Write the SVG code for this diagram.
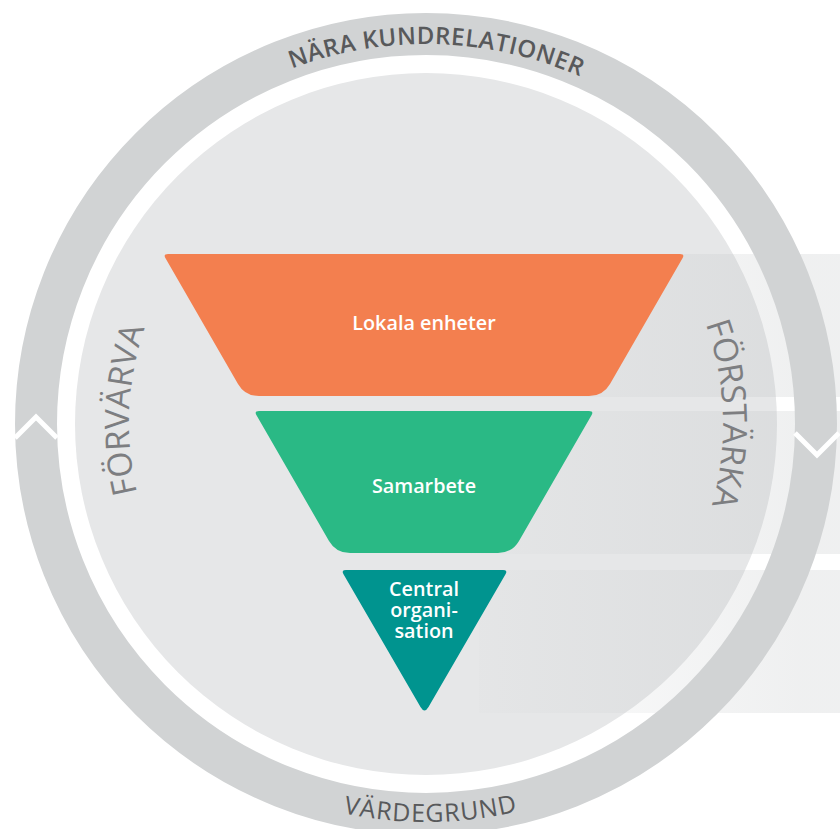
<svg xmlns="http://www.w3.org/2000/svg" width="840" height="829" viewBox="0 0 840 829">
<style>
.ringtxt{font-family:"Open Sans","Liberation Sans",sans-serif;fill:#58595b}
.side{font-family:"Open Sans","Liberation Sans",sans-serif;font-size:33.5px;fill:#7d7e81}
.lbl{font-family:"Open Sans","Liberation Sans",sans-serif;font-size:19.8px;font-weight:600;fill:#ffffff;text-anchor:middle}
.band{fill:url(#bandGrad)}
.chev{fill:none;stroke:#ffffff;stroke-width:5}
</style>
<defs>
<linearGradient id="bandGrad" gradientUnits="userSpaceOnUse" x1="420" y1="0" x2="800" y2="0">
<stop offset="0" stop-color="#b3b7b9" stop-opacity="0"/>
<stop offset="1" stop-color="#b3b7b9" stop-opacity="0.21"/>
</linearGradient>
<path id="arcTop" d="M 46 424 A 380 380 0 0 1 806 424"/>
<path id="arcBottom" d="M 28 424 A 398 398 0 0 0 824 424"/>
<path id="arcLeft" d="M 206.3 623.9 A 297 297 0 0 1 226.1 204.3"/>
<path id="arcRight" d="M 628.9 207.1 A 297 297 0 0 1 642.9 626.9"/>
</defs>
<rect x="0" y="0" width="840" height="829" fill="#ffffff"/>
<g id="disc">
<circle cx="426" cy="424" r="351" fill="#e6e7e8"/>
</g>
<g id="bands">
<rect class="band" x="424" y="254" width="416" height="143"/>
<rect class="band" x="424" y="411" width="416" height="143"/>
<rect class="band" x="479" y="570" width="361" height="143"/>
</g>
<g id="ring">
<circle cx="426" cy="424" r="390" fill="none" stroke="#d1d3d4" stroke-width="42"/>
<polyline class="chev" points="15,438 36,417 57,438"/>
<polyline class="chev" points="795,433 817,455 839,433"/>
<text class="ringtxt" font-size="24" font-weight="600" letter-spacing="0.5"><textPath href="#arcTop" startOffset="50.9%" text-anchor="middle">NÄRA KUNDRELATIONER</textPath></text>
<text class="ringtxt" font-size="25" letter-spacing="1"><textPath href="#arcBottom" startOffset="50.4%" text-anchor="middle">VÄRDEGRUND</textPath></text>
</g>
<g id="side-labels">
<text class="side"><textPath href="#arcLeft" startOffset="50%" text-anchor="middle">FÖRVÄRVA</textPath></text>
<text class="side"><textPath href="#arcRight" startOffset="50%" text-anchor="middle">FÖRSTÄRKA</textPath></text>
</g>
<g id="lokala-enheter">
<path d="M 168 254 L 680 254 Q 685 254 682.5 258.3 L 610 383.9 Q 603 396 589 396 L 259 396 Q 245 396 238 383.9 L 165.5 258.3 Q 163 254 168 254 Z" fill="#f37f4f"/>
<text class="lbl" x="424" y="330">Lokala enheter</text>
</g>
<g id="samarbete">
<path d="M 259 411 L 589 411 Q 594 411 591.5 415.3 L 519 540.9 Q 512 553 498 553 L 350 553 Q 336 553 329 540.9 L 256.5 415.3 Q 254 411 259 411 Z" fill="#2ab985"/>
<text class="lbl" x="424" y="493">Samarbete</text>
</g>
<g id="central-organisation">
<path d="M 346 570 L 503 570 Q 508 570 505.5 574.3 L 428.5 707.1 Q 424.5 714 420.5 707.1 L 343.5 574.3 Q 341 570 346 570 Z" fill="#00948f"/>
<text class="lbl" x="424" y="596">Central<tspan x="424" dy="21">organi-</tspan><tspan x="424" dy="21">sation</tspan></text>
</g>
</svg>
